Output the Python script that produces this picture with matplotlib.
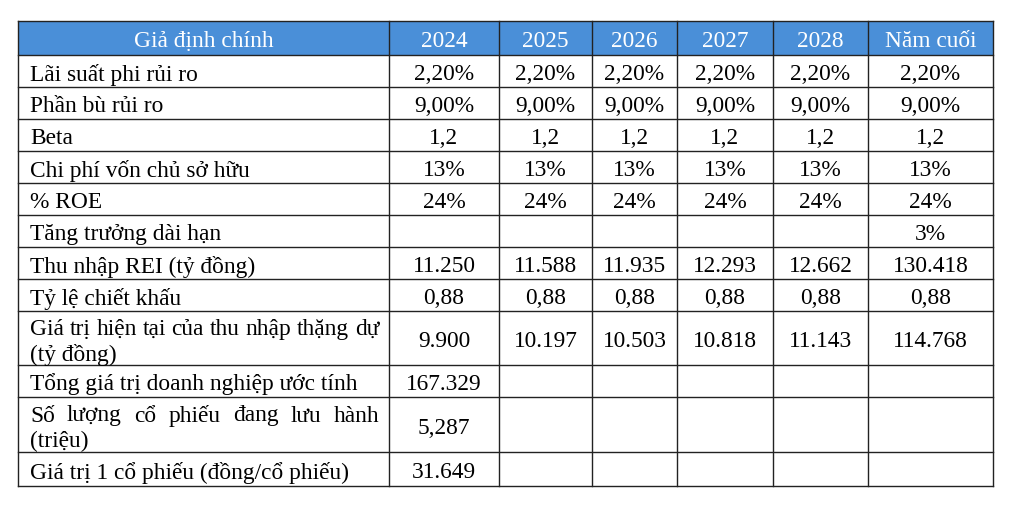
import matplotlib.pyplot as plt
from matplotlib.patches import Rectangle

# Table content
header_label = "Giả định chính"
years = ["2024", "2025", "2026", "2027", "2028", "Năm cuối"]
row_labels = [
    "Lãi suất phi rủi ro",
    "Phần bù rủi ro",
    "Beta",
    "Chi phí vốn chủ sở hữu",
    "% ROE",
    "Tăng trưởng dài hạn",
    "Thu nhập REI (tỷ đồng)",
    "Tỷ lệ chiết khấu",
    "Giá trị hiện tại của thu nhập thặng dự\n(tỷ đồng)",
    "Tổng giá trị doanh nghiệp ước tính",
    "Số lượng cổ phiếu đang lưu hành\n(triệu)",
    "Giá trị 1 cổ phiếu (đồng/cổ phiếu)",
]
risk_free = ["2,20%", "2,20%", "2,20%", "2,20%", "2,20%", "2,20%"]
risk_premium = ["9,00%", "9,00%", "9,00%", "9,00%", "9,00%", "9,00%"]
beta = ["1,2", "1,2", "1,2", "1,2", "1,2", "1,2"]
cost_of_equity = ["13%", "13%", "13%", "13%", "13%", "13%"]
roe = ["24%", "24%", "24%", "24%", "24%", "24%"]
long_growth = ["", "", "", "", "", "3%"]
rei_income = ["11.250", "11.588", "11.935", "12.293", "12.662", "130.418"]
discount = ["0,88", "0,88", "0,88", "0,88", "0,88", "0,88"]
pv_residual = ["9.900", "10.197", "10.503", "10.818", "11.143", "114.768"]
enterprise_value = ["167.329", "", "", "", "", ""]
shares_out = ["5,287", "", "", "", "", ""]
value_per_share = ["31.649", "", "", "", "", ""]

rows = [risk_free, risk_premium, beta, cost_of_equity, roe, long_growth,
        rei_income, discount, pv_residual, enterprise_value, shares_out,
        value_per_share]

# Layout (pixels)
col_edges = [18, 389, 499, 592, 677, 773, 868, 993]
row_edges = [21, 55, 87, 119, 151, 183, 215, 247, 279, 311, 365, 397, 452, 486]
header_color = "#4a8fd8"
line_color = "#222222"
font = "Liberation Serif"
fs = 16.8

fig = plt.figure(figsize=(10.24, 5.09), dpi=100)
ax = fig.add_axes([0, 0, 1, 1])
ax.set_xlim(0, 1024)
ax.set_ylim(509, 0)
ax.axis("off")

ax.add_patch(Rectangle((col_edges[0], row_edges[0]), col_edges[-1] - col_edges[0],
                       row_edges[1] - row_edges[0], facecolor=header_color,
                       edgecolor="none", zorder=1))

# grid lines
for y in row_edges:
    ax.plot([col_edges[0], col_edges[-1]], [y, y], color=line_color, lw=1.0, zorder=3)
for x in col_edges:
    ax.plot([x, x], [row_edges[0], row_edges[-1]], color=line_color, lw=1.0, zorder=3)

renderer = fig.canvas.get_renderer()


def draw_justified(words, x0, x1, y):
    texts = [ax.text(0, y, w, fontsize=fs, family=font, va="center_baseline",
                     ha="left", zorder=4) for w in words]
    widths = [t.get_window_extent(renderer).width for t in texts]
    gap = (x1 - x0 - sum(widths)) / (len(words) - 1)
    x = x0
    for t, w in zip(texts, widths):
        t.set_x(x)
        x += w + gap


# header
hy = (row_edges[0] + row_edges[1]) / 2 + 1
ax.text((col_edges[0] + col_edges[1]) / 2, hy, header_label, color="white",
        fontsize=fs, family=font, ha="center", va="center_baseline", zorder=4)
for i, yr in enumerate(years):
    ax.text((col_edges[i + 1] + col_edges[i + 2]) / 2, hy, yr, color="white",
            fontsize=fs, family=font, ha="center", va="center_baseline", zorder=4)

# body
label_x0 = 30
label_x1 = 379
for r, (label, vals) in enumerate(zip(row_labels, rows)):
    top, bot = row_edges[r + 1], row_edges[r + 2]
    yc = (top + bot) / 2 + 1
    if "\n" in label:
        first, second = label.split("\n")
        draw_justified(first.split(" "), label_x0, label_x1, yc - 12)
        ax.text(label_x0, yc + 13, second, fontsize=fs, family=font,
                ha="left", va="center_baseline", zorder=4)
    else:
        ax.text(label_x0, yc, label, fontsize=fs, family=font,
                ha="left", va="center_baseline", zorder=4)
    for i, v in enumerate(vals):
        if v:
            ax.text((col_edges[i + 1] + col_edges[i + 2]) / 2, yc, v, fontsize=fs,
                    family=font, ha="center", va="center_baseline", zorder=4)

fig.savefig("out.png", dpi=100, facecolor="white")
